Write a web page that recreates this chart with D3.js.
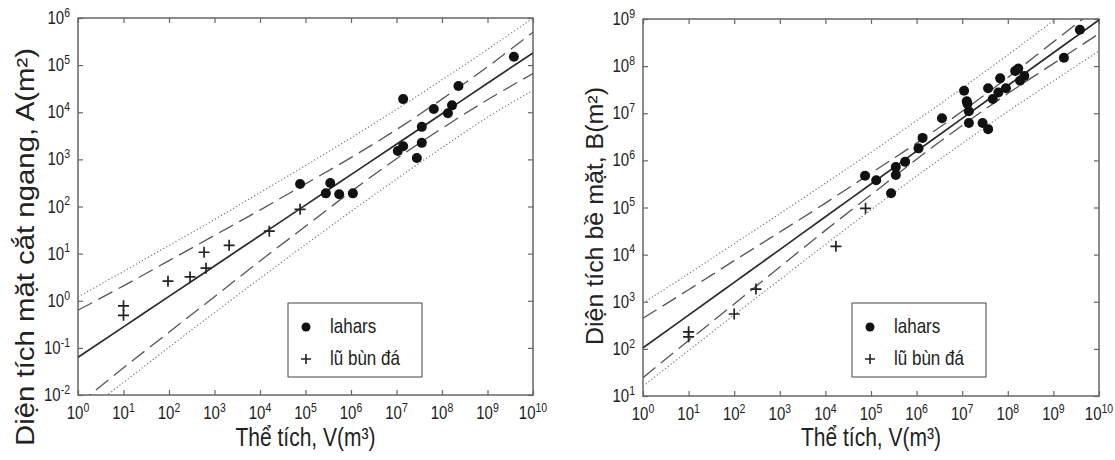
<!DOCTYPE html>
<html>
<head>
<meta charset="utf-8">
<script src="https://cdn.jsdelivr.net/npm/d3@7"></script>
<style>
body { margin: 0; background: #fff; }
svg { display: block; }
text { font-family: "Liberation Sans", Arial, sans-serif; fill: #222; }
</style>
</head>
<body>
<script>
var w = 1115;
var h = 460;

/* tick exponents for the three log axes */
var volumeExp = [0, 1, 2, 3, 4, 5, 6, 7, 8, 9, 10];
var areaExp = [-2, -1, 0, 1, 2, 3, 4, 5, 6];
var planExp = [1, 2, 3, 4, 5, 6, 7, 8, 9];

var bandV = [1e0, 1e1, 1e2, 1e3, 1e4, 1e5, 1e6, 1e7, 1e8, 1e9, 1e10];

/* left panel: cross-section area A */
var leftFit = [0.063, 0.279, 1.24, 5.47, 24.2, 107, 474, 2100, 9290, 41100, 182000];
var leftConfHi = [0.63, 2.07, 7.1, 24.4, 84, 302, 1090, 4290, 19000, 92000, 500000];
var leftConfLo = [0.0063, 0.0377, 0.215, 1.22, 6.98, 38, 207, 1030, 4550, 18400, 66000];
var leftPredHi = [1.2, 4.2, 14.9, 53, 197, 741, 2860, 11500, 48800, 216000, 1000000];
var leftPredLo = [0.0033, 0.0185, 0.103, 0.56, 2.98, 15.5, 78.7, 382, 1770, 7830, 29000];

var leftLaharV = [7.6e4, 3.5e5, 2.8e5, 5.5e5, 1.1e6, 1.4e7, 1.07e7, 1.4e7, 2.8e7, 3.6e7, 3.6e7, 6.6e7, 1.35e8, 1.66e8, 2.3e8, 3.8e9];
var leftLaharA = [300, 316, 190, 182, 190, 1.9e4, 1500, 1900, 1070, 2240, 4900, 1.17e4, 9500, 1.4e4, 3.6e4, 1.5e5];
var leftDebrisV = [10, 10, 95, 290, 590, 650, 2100, 1.6e4, 7.6e4];
var leftDebrisA = [0.78, 0.49, 2.6, 3.2, 10.7, 4.9, 15, 30, 87];

/* right panel: planimetric area B */
var rightFit = [105, 520, 2580, 12800, 63700, 316000, 1.57e6, 7.8e6, 3.87e7, 1.92e8, 9.55e8];
var rightConfHi = [447, 1800, 7450, 30100, 124000, 537000, 2.32e6, 1.10e7, 5.73e7, 3.27e8, 1.86e9];
var rightConfLo = [24.5, 150, 895, 5470, 32700, 186000, 1.06e6, 5.52e6, 2.62e7, 1.13e8, 4.9e8];
var rightPredHi = [933, 3940, 17100, 73800, 327000, 1.48e6, 7.0e6, 3.4e7, 1.73e8, 9.2e8, 5.0e9];
var rightPredLo = [16.2, 92.5, 527, 2940, 16400, 89100, 464000, 2.3e6, 1.09e7, 4.83e7, 2.09e8];

var rightLaharV = [7.4e4, 1.3e5, 2.75e5, 3.5e5, 3.5e5, 5.6e5, 1.1e6, 1.35e6, 3.6e6, 1.1e7, 1.26e7, 1.3e7, 1.4e7, 1.4e7, 2.8e7, 3.7e7, 3.7e7, 4.7e7, 6.2e7, 6.8e7, 9.1e7, 1.45e8, 1.7e8, 1.86e8, 2.3e8, 1.7e9, 3.8e9];
var rightLaharB = [4.7e5, 3.8e5, 2.0e5, 7.2e5, 4.9e5, 9.3e5, 1.8e6, 3.0e6, 7.8e6, 3.0e7, 1.8e7, 1.6e7, 1.1e7, 6.2e6, 6.2e6, 4.6e6, 3.4e7, 2.0e7, 2.75e7, 5.5e7, 3.4e7, 7.9e7, 8.9e7, 4.9e7, 6.2e7, 1.5e8, 5.9e8];
var rightDebrisV = [10, 10, 100, 300, 1.7e4, 7.6e4];
var rightDebrisB = [230, 180, 550, 1860, 1.5e4, 9.6e4];

var legendLabels = ["lahars", "lũ bùn đá"];
var xTitle = "Thể tích, V(m³)";

var svg = d3.select("body")
    .append("svg")
    .attr("width", w)
    .attr("height", h);

function pow10(e) { return Math.pow(10, e); }

/* text drawn a bit taller than wide, like the scanned figure */
function label(g, x, y, anchor, size, base, sup) {
    var t = g.append("text")
        .attr("transform", "translate(" + x + "," + y + ") scale(1,1.2)")
        .attr("text-anchor", anchor)
        .style("font-size", size + "px");
    t.append("tspan").text(base);
    if (sup !== undefined) {
        t.append("tspan")
            .attr("dy", -6)
            .style("font-size", (size * 0.7) + "px")
            .text(sup);
    }
    return t;
}

function drawPanel(p) {
    var g = svg.append("g");

    var xScale = d3.scaleLog().domain([1e0, 1e10]).range([p.x0, p.x1]);
    var yScale = d3.scaleLog().domain(p.yDomain).range([p.y1, p.y0]);

    var xTicks = volumeExp.map(pow10);
    var yTicks = p.yExp.map(pow10);

    g.append("clipPath").attr("id", p.id)
        .append("rect")
        .attr("x", p.x0).attr("y", p.y0)
        .attr("width", p.x1 - p.x0).attr("height", p.y1 - p.y0);

    /* inward ticks on all four sides */
    var axes = [
        [d3.axisBottom(xScale).tickValues(xTicks), "translate(0," + p.y1 + ")"],
        [d3.axisTop(xScale).tickValues(xTicks), "translate(0," + p.y0 + ")"],
        [d3.axisLeft(yScale).tickValues(yTicks), "translate(" + p.x0 + ",0)"],
        [d3.axisRight(yScale).tickValues(yTicks), "translate(" + p.x1 + ",0)"]
    ];
    axes.forEach(function(a) {
        var ax = g.append("g")
            .attr("transform", a[1])
            .call(a[0].tickSizeInner(-5).tickSizeOuter(0).tickFormat(""));
        ax.select(".domain").remove();
        ax.selectAll("line").attr("stroke", "#666").attr("stroke-width", 1.2);
    });

    g.append("rect")
        .attr("x", p.x0).attr("y", p.y0)
        .attr("width", p.x1 - p.x0).attr("height", p.y1 - p.y0)
        .attr("fill", "none")
        .attr("stroke", "#666")
        .attr("stroke-width", 1.5);

    /* tick labels */
    volumeExp.forEach(function(e) {
        label(g, xScale(pow10(e)), p.y1 + 24, "middle", 15, "10", String(e));
    });
    p.yExp.forEach(function(e) {
        label(g, p.x0 - 8, yScale(pow10(e)) + 6, "end", 15, "10", String(e));
    });

    /* fitted line and bands */
    var line = d3.line()
        .x(function(d) { return xScale(d[0]); })
        .y(function(d) { return yScale(d[1]); })
        .curve(d3.curveMonotoneX);

    var lines = g.append("g").attr("clip-path", "url(#" + p.id + ")");
    var styles = [
        [p.predHi, "#777", 1.2, "1.2,2.3"],
        [p.predLo, "#777", 1.2, "1.2,2.3"],
        [p.confHi, "#555", 1.3, "16,7"],
        [p.confLo, "#555", 1.3, "16,7"],
        [p.fit, "#2a2a2a", 1.7, null]
    ];
    styles.forEach(function(s) {
        lines.append("path")
            .datum(d3.zip(bandV, s[0]))
            .attr("d", line)
            .attr("fill", "none")
            .attr("stroke", s[1])
            .attr("stroke-width", s[2])
            .attr("stroke-dasharray", s[3]);
    });

    /* points */
    g.selectAll("circle.lahar")
        .data(d3.zip(p.laharV, p.laharY))
        .enter()
        .append("circle")
        .attr("class", "lahar")
        .attr("cx", function(d) { return xScale(d[0]); })
        .attr("cy", function(d) { return yScale(d[1]); })
        .attr("r", 5)
        .attr("fill", "#111");

    g.selectAll("path.debris")
        .data(d3.zip(p.debrisV, p.debrisY))
        .enter()
        .append("path")
        .attr("class", "debris")
        .attr("transform", function(d) {
            return "translate(" + xScale(d[0]) + "," + yScale(d[1]) + ")";
        })
        .attr("d", "M-5.5,0H5.5M0,-5.5V5.5")
        .attr("stroke", "#222")
        .attr("stroke-width", 1.7);

    /* legend */
    var lg = g.append("g").attr("transform", "translate(" + p.legX + "," + p.legY + ")");
    lg.append("rect")
        .attr("width", 134).attr("height", 74)
        .attr("fill", "#fff")
        .attr("stroke", "#444")
        .attr("stroke-width", 1);
    lg.append("circle").attr("cx", 18).attr("cy", 24).attr("r", 4.5).attr("fill", "#111");
    lg.append("path").attr("d", "M13,56H23M18,51V61").attr("stroke", "#222").attr("stroke-width", 1.6);
    label(lg, 42, 30, "start", 17, legendLabels[0]);
    label(lg, 42, 62, "start", 17, legendLabels[1]);

    /* axis titles */
    label(g, (p.x0 + p.x1) / 2, 446, "middle", 21, xTitle);

    g.append("text")
        .attr("transform", "translate(" + p.ytX + "," + p.ytY + ") rotate(-90)")
        .attr("text-anchor", "middle")
        .attr("textLength", p.ytLen)
        .attr("lengthAdjust", "spacingAndGlyphs")
        .style("font-size", p.ytSize + "px")
        .text(p.yTitle);
}

drawPanel({
    id: "clipL", x0: 78, x1: 533, y0: 18, y1: 395,
    yDomain: [1e-2, 1e6], yExp: areaExp,
    fit: leftFit, confHi: leftConfHi, confLo: leftConfLo, predHi: leftPredHi, predLo: leftPredLo,
    laharV: leftLaharV, laharY: leftLaharA, debrisV: leftDebrisV, debrisY: leftDebrisA,
    legX: 288, legY: 303,
    yTitle: "Diện tích mặt cắt ngang, A(m²)", ytX: 34, ytY: 247, ytLen: 398, ytSize: 25
});

drawPanel({
    id: "clipR", x0: 643, x1: 1099, y0: 19, y1: 396,
    yDomain: [1e1, 1e9], yExp: planExp,
    fit: rightFit, confHi: rightConfHi, confLo: rightConfLo, predHi: rightPredHi, predLo: rightPredLo,
    laharV: rightLaharV, laharY: rightLaharB, debrisV: rightDebrisV, debrisY: rightDebrisB,
    legX: 852, legY: 303,
    yTitle: "Diện tích bề mặt, B(m²)", ytX: 603, ytY: 216, ytLen: 258, ytSize: 23
});
</script>
</body>
</html>
